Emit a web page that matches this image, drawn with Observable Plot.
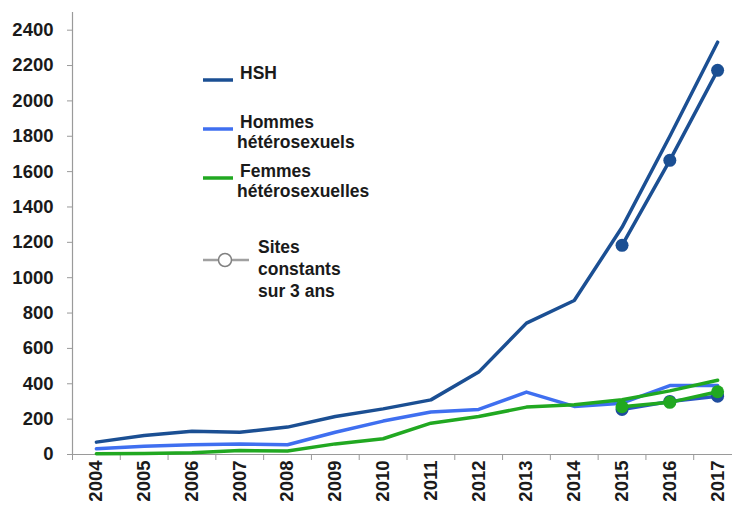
<!DOCTYPE html>
<html><head><meta charset="utf-8">
<script src="https://cdn.jsdelivr.net/npm/d3@7"></script>
<script src="https://cdn.jsdelivr.net/npm/@observablehq/plot@0.6"></script>
<style>
body{margin:0;background:#fff;font-family:"Liberation Sans",Arial,sans-serif}
#wrap{position:relative;width:732px;height:510px;overflow:hidden}
.lg{position:absolute;font-weight:bold;font-size:17.5px;color:#1a1a1a;line-height:20px;white-space:nowrap}
.sw{position:absolute}
</style></head><body><div id="wrap"></div>
<script>
const years=[2004,2005,2006,2007,2008,2009,2010,2011,2012,2013,2014,2015,2016,2017];
const hsh=[70,107,132,126,155,215,258,309,466,743,871,1285,1800,2332];
const hommes=[32,47,55,60,55,126,189,240,255,353,272,290,390,390];
const femmes=[4,5,10,22,20,60,89,177,215,268,281,310,360,420];
const constYears=[2015,2016,2017];
const hshConst=[1183,1664,2173];
const hommesConst=[255,300,330];
const femmesConst=[270,295,355];
const yTicks=[0,200,400,600,800,1000,1200,1400,1600,1800,2000,2200,2400];
const seriesNames=["HSH","Hommes hétérosexuels","Femmes hétérosexuelles"];
const colors=["#1b4f93","#3f6ff0","#21a821"];

const boundaries=years.map(y=>y-0.5).concat([years[years.length-1]+0.5]);
const mk=(vals,ys)=>ys.map((x,i)=>({x,y:vals[i]}));

const chart=Plot.plot({
  width:732,height:510,
  marginLeft:72,marginRight:0,marginTop:12,marginBottom:56,
  style:{fontFamily:"Liberation Sans, Arial, sans-serif",background:"#fff"},
  x:{type:"linear",domain:[2003.5,2017.5],range:[72,741]},
  y:{domain:[0,2500],range:[454,12]},
  marks:[
    Plot.ruleX([2003.5],{stroke:"#9a9a9a",strokeWidth:1.2}),
    Plot.ruleY([0],{stroke:"#9a9a9a",strokeWidth:1.2}),
    Plot.axisY({ticks:yTicks,tickSize:5,tickPadding:14,tickFormat:d=>String(d),stroke:"#9a9a9a",fill:"#1a1a1a",fontSize:18.5,fontWeight:"bold",label:null}),
    Plot.axisX({ticks:boundaries,tickSize:6,tickFormat:()=>"",stroke:"#9a9a9a",label:null}),
    Plot.axisX({ticks:years,tickSize:0,tickPadding:6,tickRotate:-90,tickFormat:d=>String(d),fill:"#1a1a1a",fontSize:18.5,fontWeight:"bold",label:null}),
    Plot.line(mk(hommes,years),{x:"x",y:"y",stroke:colors[1],strokeWidth:3.5}),
    Plot.line(mk(femmes,years),{x:"x",y:"y",stroke:colors[2],strokeWidth:3.5}),
    Plot.line(mk(hsh,years),{x:"x",y:"y",stroke:colors[0],strokeWidth:3.5}),
    Plot.line(mk(hommesConst,constYears),{x:"x",y:"y",stroke:"#2b55c4",strokeWidth:3.5}),
    Plot.dot(mk(hommesConst,constYears),{x:"x",y:"y",r:6.5,fill:"#1f4c9e"}),
    Plot.line(mk(femmesConst,constYears),{x:"x",y:"y",stroke:colors[2],strokeWidth:3.5}),
    Plot.dot(mk(femmesConst,constYears),{x:"x",y:"y",r:6.5,fill:colors[2]}),
    Plot.line(mk(hshConst,constYears),{x:"x",y:"y",stroke:colors[0],strokeWidth:3.5}),
    Plot.dot(mk(hshConst,constYears),{x:"x",y:"y",r:6.5,fill:colors[0]})
  ]
});
const wrap=document.getElementById("wrap");
wrap.appendChild(chart);

function sw(top,html){const s=document.createElement("div");s.className="sw";s.style.left="202px";s.style.top=top+"px";s.innerHTML=html;wrap.appendChild(s);}
function lab(left,top,text,lh){const d=document.createElement("div");d.className="lg";d.style.left=left+"px";d.style.top=top+"px";if(lh)d.style.lineHeight=lh+"px";d.innerHTML=text;wrap.appendChild(d);}
const lineSw=c=>`<svg width="34" height="6"><line x1="1" y1="3" x2="31" y2="3" stroke="${c}" stroke-width="3.5"/></svg>`;
sw(69,lineSw(colors[0])); lab(240,63,seriesNames[0]);
sw(118,lineSw(colors[1])); lab(240,112,"Hommes<br><span style='margin-left:-3px'>hétérosexuels</span>");
sw(167,lineSw(colors[2])); lab(240,161,"Femmes<br><span style='margin-left:-3px'>hétérosexuelles</span>");
sw(251,`<svg width="50" height="18"><line x1="1" y1="9" x2="47" y2="9" stroke="#a0a0a0" stroke-width="2.5"/><circle cx="23" cy="9" r="6.5" fill="#fff" stroke="#808080" stroke-width="1.5"/></svg>`);
lab(258,236,"Sites<br>constants<br>sur 3 ans",22);
</script></body></html>
